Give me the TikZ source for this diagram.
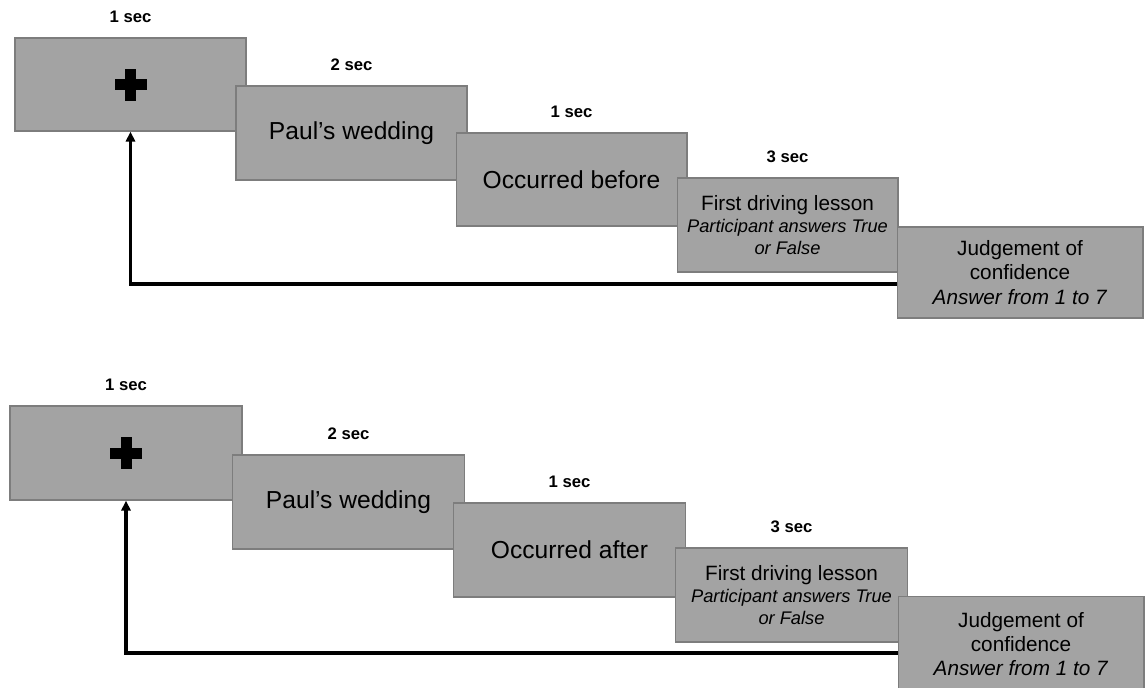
\documentclass[tikz,border=0pt]{standalone}
\usepackage{fontspec}
\setmainfont{Liberation Sans}
\usetikzlibrary{arrows.meta, positioning, calc}
\definecolor{slidecolor}{RGB}{163, 163, 163}
\definecolor{edgecolor}{RGB}{125, 125, 125}

\begin{document}
\begin{tikzpicture}[
    x=0.02cm, y=-0.02cm,
    slide/.style={
        rectangle,
        draw=edgecolor,
        line width=0.6pt,
        fill=slidecolor,
        minimum width=4.64cm,
        minimum height=1.88cm,
        inner sep=0pt,
        align=center,
        font=\fontsize{14}{16}\selectfont
    },
    probeslide/.style={
        slide,
        font=\fontsize{11.8}{12.4}\selectfont
    },
    judgeslide/.style={
        slide,
        minimum width=4.92cm,
        minimum height=1.82cm,
        font=\fontsize{11.8}{13.9}\selectfont
    },
    timelabel/.style={
        inner sep=0pt,
        font=\bfseries\fontsize{9.5}{11}\selectfont
    },
    backarrow/.style={
        line width=2pt,
        -{Triangle[length=0.2cm, width=0.18cm]}
    }
]

\useasboundingbox (0,0) rectangle (1146,687);

% First trial: "before"
\node[slide, minimum width=4.62cm, minimum height=1.86cm] (fix1) at (130.5,84.5) {};
\fill ($(fix1)+(-16,-5.5)$) rectangle ($(fix1)+(16,5.5)$);
\fill ($(fix1)+(-5.5,-16)$) rectangle ($(fix1)+(5.5,16)$);
\node[slide, minimum width=4.62cm] (event1) at (351.5,133) {Paul’s wedding};
\node[slide, minimum width=4.62cm, minimum height=1.86cm] (order1) at (571.5,179.5) {Occurred before};
\node[probeslide, minimum width=4.42cm] (probe1) at (787.5,225) {First driving lesson\\{\fontsize{10.4}{12}\selectfont\itshape Participant answers True}\\{\fontsize{10.4}{12}\selectfont\itshape or False}};
\node[judgeslide] (judge1) at (1020,272.5) {Judgement of\\confidence\\\textit{Answer from 1 to 7}};

\node[timelabel, above=0.28cm of fix1] (time1a) {1 sec};
\node[timelabel, above=0.28cm of event1] (time1b) {2 sec};
\node[timelabel, above=0.28cm of order1] (time1c) {1 sec};
\node[timelabel, above=0.28cm of probe1] (time1d) {3 sec};

\coordinate (turn1) at (130,284);
\draw[backarrow] (judge1.west |- turn1) -| (fix1.south);

% Second trial: "after"
\node[slide] (fix2) at (126,453) {};
\fill ($(fix2)+(-16,-5.5)$) rectangle ($(fix2)+(16,5.5)$);
\fill ($(fix2)+(-5.5,-16)$) rectangle ($(fix2)+(5.5,16)$);
\node[slide] (event2) at (348.5,502) {Paul’s wedding};
\node[slide] (order2) at (569.5,550) {Occurred after};
\node[probeslide] (probe2) at (791.5,595) {First driving lesson\\{\fontsize{10.4}{12}\selectfont\itshape Participant answers True}\\{\fontsize{10.4}{12}\selectfont\itshape or False}};
\node[judgeslide, minimum height=1.9cm] (judge2) at (1021,644) {Judgement of\\confidence\\\textit{Answer from 1 to 7}};

\node[timelabel, above=0.28cm of fix2] (time2a) {1 sec};
\node[timelabel, above=0.28cm of event2] (time2b) {2 sec};
\node[timelabel, above=0.28cm of order2] (time2c) {1 sec};
\node[timelabel, above=0.28cm of probe2] (time2d) {3 sec};

\coordinate (turn2) at (125,653);
\draw[backarrow] (judge2.west |- turn2) -| (fix2.south);

\end{tikzpicture}
\end{document}
